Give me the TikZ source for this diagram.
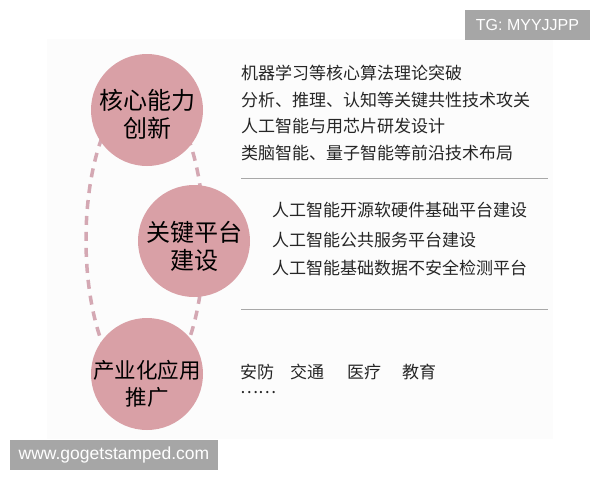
\documentclass[tikz,border=0pt]{standalone}
\usepackage{fontspec}
\setmainfont{Noto Sans CJK SC}
\newfontfamily\wmfont{Liberation Sans}
\usetikzlibrary{shapes.geometric}
\definecolor{bubblefill}{HTML}{D9A0A6}
\definecolor{dashpink}{HTML}{D4A8B3}
\definecolor{panelbg}{HTML}{FCFCFC}
\definecolor{rulegray}{HTML}{A8A8A8}
\definecolor{wmgray}{HTML}{A6A6A6}
\definecolor{txt}{HTML}{262626}
\begin{document}
\begin{tikzpicture}[x=1pt,y=-1pt,
 bubble/.style={ellipse, fill=bubblefill, minimum width=112pt, minimum height=112pt, inner sep=0pt},
 bubbletext/.style={align=center, font=\fontsize{24}{28}\selectfont, text=black, inner sep=0pt},
 item/.style={anchor=west, font=\fontsize{17}{20}\selectfont, text=txt, inner sep=0pt},
 sepline/.style={draw=rulegray, line width=1pt},
 dashline/.style={draw=dashpink, line width=3.5pt, dash pattern=on 9pt off 7pt},
 wmbox/.style={fill=wmgray, text=white, font=\wmfont\fontsize{16}{18}\selectfont, inner sep=0pt, minimum height=30pt}]
\useasboundingbox (0,0) rectangle (600,480);
\fill[white] (0,0) rectangle (600,480);
\fill[panelbg] (47,39) rectangle (553,439);
% dashed loop behind bubbles
\node (loop) [ellipse, dashline, minimum width=118pt, minimum height=300pt, inner sep=0pt] at (145,240) {};
% bubbles
\node (c1) [bubble] at (147,110) {};
\node (c2) [bubble] at (194,241) {};
\node (c3) [bubble] at (147,374) {};
\node (t1) [bubbletext] at (147,114) {核心能力\\创新};
\node (t2) [bubbletext] at (194,246) {关键平台\\建设};
\node (t3) [bubbletext, font=\fontsize{21.5}{27}\selectfont] at (147,384) {产业化应用\\推广};
% group 1
\node (a1) [item] at (241,73) {机器学习等核心算法理论突破};
\node (a2) [item] at (241,100) {分析、推理、认知等关键共性技术攻关};
\node (a3) [item] at (241,126.5) {人工智能与用芯片研发设计};
\node (a4) [item] at (241,153) {类脑智能、量子智能等前沿技术布局};
\draw[sepline] (241,178) -- (548,178);
% group 2
\node (b1) [item] at (272,210) {人工智能开源软硬件基础平台建设};
\node (b2) [item] at (272,240) {人工智能公共服务平台建设};
\node (b3) [item] at (272,268) {人工智能基础数据不安全检测平台};
\draw[sepline] (241,309) -- (548,309);
% group 3
\node (d1) [item] at (240,372) {安防};
\node (d2) [item] at (290,372) {交通};
\node (d3) [item] at (347,372) {医疗};
\node (d4) [item] at (402,372) {教育};
\node (d5) [item] at (240,393) {……};
% watermarks
\node (tg) [wmbox, minimum width=125pt] at (527.5,25) {TG: MYYJJPP};
\node (site) [wmbox, minimum width=208pt, font=\wmfont\fontsize{17.5}{20}\selectfont] at (114,455) {www.gogetstamped.com};
\end{tikzpicture}
\end{document}
